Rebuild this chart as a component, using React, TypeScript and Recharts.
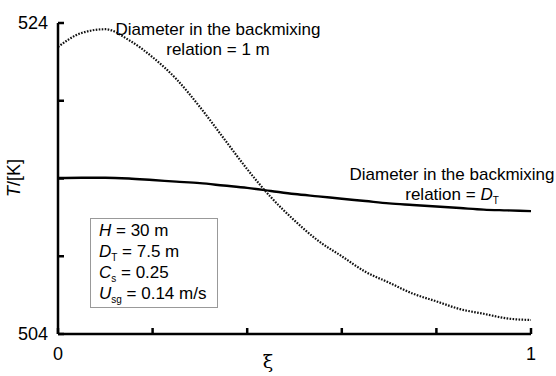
import React from 'react';
import { LineChart, Line, XAxis, YAxis } from 'recharts';

const xi = [0, 0.05, 0.1, 0.15, 0.2, 0.25, 0.3, 0.35, 0.4, 0.45, 0.5, 0.55, 0.6, 0.65, 0.7, 0.75, 0.8, 0.85, 0.9, 0.95, 1];
const tempDT = [514.03, 514.05, 514.05, 514.0, 513.9, 513.8, 513.7, 513.55, 513.4, 513.2, 513.0, 512.85, 512.7, 512.55, 512.4, 512.3, 512.2, 512.1, 512.0, 511.95, 511.9];
const temp1m = [522.46, 523.36, 523.6, 522.9, 521.8, 520.4, 518.6, 516.6, 514.6, 512.8, 511.3, 510.0, 509.0, 508.0, 507.3, 506.6, 506.1, 505.6, 505.3, 505.0, 504.9];
const xTicks = [0, 0.2, 0.4, 0.6, 0.8, 1];
const yTicks = [504, 509, 514, 519, 524];

const data = xi.map((x, i) => ({ xi: x, dt: tempDT[i], oneM: temp1m[i] }));

const font = '"Liberation Sans", Arial, sans-serif';

const App: React.FC = () => {
  return (
    <div style={{ position: 'absolute', left: 0, top: 0, width: 556, height: 376, background: '#fff', fontFamily: font, overflow: 'hidden' }}>
      <LineChart width={556} height={376} data={data} margin={{ top: 23, right: 25, bottom: 0, left: 0 }}>
        <XAxis
          dataKey="xi"
          type="number"
          domain={[0, 1]}
          ticks={xTicks}
          tickFormatter={(v: number) => (v === 0 || v === 1 ? String(v) : '')}
          height={42}
          tickSize={-6}
          tickMargin={19}
          stroke="#000"
          strokeWidth={2.5}
          tick={{ fill: '#000', fontSize: 18, fontFamily: font }}
        />
        <YAxis
          type="number"
          domain={[504, 524]}
          ticks={yTicks}
          tickFormatter={(v: number) => (v === 504 || v === 524 ? String(v) : '')}
          width={58}
          tickSize={-6}
          tickMargin={16}
          stroke="#000"
          strokeWidth={2.5}
          tick={{ fill: '#000', fontSize: 18, fontFamily: font }}
        />
        <Line dataKey="dt" type="monotone" stroke="#000" strokeWidth={2.4} dot={false} isAnimationActive={false} />
        <Line dataKey="oneM" type="monotone" stroke="#111" strokeWidth={2.2} strokeDasharray="1.6 1.4" dot={false} isAnimationActive={false} />
      </LineChart>

      <div style={{ position: 'absolute', left: 14, top: 178, transform: 'translate(-50%, -50%) rotate(-90deg)', fontSize: 18, whiteSpace: 'nowrap' }}>
        <i>T</i>/[K]
      </div>
      <div style={{ position: 'absolute', left: 268, top: 352, transform: 'translateX(-50%)', fontSize: 19, lineHeight: '19px', fontFamily: '"DejaVu Serif", serif' }}>
        ξ
      </div>

      <div style={{ position: 'absolute', left: 218, top: 20, transform: 'translateX(-50%)', fontSize: 17, lineHeight: '20px', textAlign: 'center', whiteSpace: 'nowrap' }}>
        Diameter in the backmixing<br />relation = 1 m
      </div>
      <div style={{ position: 'absolute', left: 452, top: 165, transform: 'translateX(-50%)', fontSize: 17, lineHeight: '20px', textAlign: 'center', whiteSpace: 'nowrap' }}>
        Diameter in the backmixing<br />relation = <i>D</i><sub style={{ fontSize: 10 }}>T</sub>
      </div>

      <div style={{ position: 'absolute', left: 90, top: 218, width: 128, height: 90, border: '1px solid #999', background: '#fff', fontSize: 17, lineHeight: '21px', padding: '1px 0 0 8px', boxSizing: 'border-box', whiteSpace: 'nowrap' }}>
        <div><i>H</i> = 30 m</div>
        <div><i>D</i><sub style={{ fontSize: 10, lineHeight: 0 }}>T</sub> = 7.5 m</div>
        <div><i>C</i><sub style={{ fontSize: 10, lineHeight: 0 }}>s</sub> = 0.25</div>
        <div><i>U</i><sub style={{ fontSize: 10, lineHeight: 0 }}>sg</sub> = 0.14 m/s</div>
      </div>
    </div>
  );
};

export default App;
